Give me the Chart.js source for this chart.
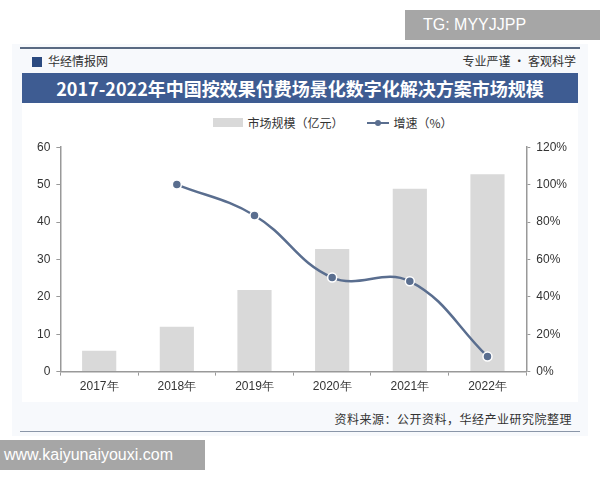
<!DOCTYPE html>
<html>
<head>
<meta charset="utf-8">
<script src="https://cdn.jsdelivr.net/npm/chart.js@4.4.0/dist/chart.umd.min.js"></script>
<style>
  body { margin: 0; width: 600px; height: 480px; background: #fff; font-family: "Noto Sans CJK SC", sans-serif; position: relative; overflow: hidden; }
  .panel { position: absolute; left: 12px; top: 44px; width: 576px; height: 392px; background: #f7f9fc; }
  .inner { position: absolute; left: 22px; top: 102px; width: 556px; height: 300px; background: #fff; }
  .topline { position: absolute; left: 20px; top: 47px; width: 560px; height: 2px; background: #5a6a82; }
  .botline { position: absolute; left: 20px; top: 431px; width: 560px; height: 1px; background: #8a96a8; }
  .brand { position: absolute; left: 32px; top: 52px; font-size: 12px; color: #333; }
  .brand b { display: inline-block; width: 10px; height: 10px; background: #2b4a80; margin-right: 6px; vertical-align: -1px; }
  .slogan { position: absolute; right: 24px; top: 52px; font-size: 12px; color: #333; }
  .banner { position: absolute; left: 22px; top: 73px; width: 556px; height: 30px; background: #3e5c92; color: #fff; font-size: 18px; font-weight: bold; text-align: center; line-height: 30px; }
  .legend { position: absolute; left: 33px; top: 112px; width: 600px; text-align: center; font-size: 12px; color: #333; }
  .legend span { display: inline-block; vertical-align: middle; }
  .lbox { width: 30px; height: 9px; background: #d9d9d9; margin-right: 4px; }
  .lline { width: 22px; height: 2px; background: #5a6e8f; position: relative; margin: 0 4px 0 24px; }
  .lline i { position: absolute; left: 8px; top: -2px; width: 6px; height: 6px; border-radius: 3px; background: #5a6e8f; }
  .source { position: absolute; right: 28px; top: 410px; font-size: 12px; color: #333; letter-spacing: 0.5px; }
  .wm1 { position: absolute; left: 405px; top: 10px; width: 195px; height: 30px; background: #a6a6a6; color: #fff; font-family: "Liberation Sans", sans-serif; font-size: 16px; line-height: 30px; padding-left: 18px; box-sizing: border-box; }
  .wm2 { position: absolute; left: 0; top: 440px; width: 205px; height: 30px; background: #a6a6a6; color: #fff; font-family: "Liberation Sans", sans-serif; font-size: 16px; line-height: 30px; padding-left: 4px; box-sizing: border-box; }
  #wrap { position: absolute; left: 31px; top: 134px; width: 548px; height: 264px; }
</style>
</head>
<body>
<div class="panel"></div>
<div class="inner"></div>
<div class="topline"></div>
<div class="brand"><b></b>华经情报网</div>
<div class="slogan">专业严谨 • 客观科学</div>
<div class="banner">2017-2022年中国按效果付费场景化数字化解决方案市场规模</div>
<div class="legend"><span class="lbox"></span><span>市场规模（亿元）</span><span class="lline"><i></i></span><span>增速（%）</span></div>
<div id="wrap"><canvas id="myChart"></canvas></div>
<div class="source">资料来源：公开资料，华经产业研究院整理</div>
<div class="botline"></div>
<div class="wm1">TG: MYYJJPP</div>
<div class="wm2">www.kaiyunaiyouxi.com</div>
<script>
const years = ['2017年', '2018年', '2019年', '2020年', '2021年', '2022年'];
const marketSize = [5.6, 12, 21.8, 32.8, 48.9, 52.8];
const growthRate = [null, 100, 83.5, 50.3, 48.3, 8.1];

const ctx = document.getElementById('myChart');

new Chart(ctx, {
    data: {
        labels: years,
        datasets: [{
            type: 'line',
            label: '增速（%）',
            data: growthRate,
            yAxisID: 'y1',
            borderColor: '#5a6e8f',
            borderWidth: 2.5,
            tension: 0.4,
            pointRadius: 4.5,
            pointBackgroundColor: '#5a6e8f',
            pointBorderColor: '#fff',
            pointBorderWidth: 1.5
        }, {
            type: 'bar',
            label: '市场规模（亿元）',
            data: marketSize,
            yAxisID: 'y',
            backgroundColor: '#d9d9d9',
            barPercentage: 0.44,
            categoryPercentage: 1
        }]
    },
    options: {
        responsive: true,
        maintainAspectRatio: false,
        animation: false,
        layout: { padding: { top: 4, right: 6 } },
        plugins: { legend: { display: false }, tooltip: { enabled: false } },
        scales: {
            x: {
                grid: { display: true, drawOnChartArea: false, offset: true, tickLength: 4, color: '#999' },
                border: { color: '#999', width: 1.5 },
                ticks: { color: '#333', font: { size: 12, family: 'Liberation Sans' }, padding: 4 }
            },
            y: {
                position: 'left',
                min: 0, max: 60,
                ticks: { stepSize: 10, color: '#333', font: { size: 12, family: 'Liberation Sans' }, padding: 6 },
                grid: { drawOnChartArea: false, tickLength: 4, color: '#999' },
                border: { color: '#999', width: 1.5 }
            },
            y1: {
                position: 'right',
                min: 0, max: 120,
                ticks: { stepSize: 20, color: '#333', font: { size: 12, family: 'Liberation Sans' }, padding: 6,
                    callback: v => v + '%' },
                grid: { drawOnChartArea: false, tickLength: 4, color: '#999' },
                border: { color: '#999', width: 1.5 }
            }
        }
    }
});
</script>
</body>
</html>
